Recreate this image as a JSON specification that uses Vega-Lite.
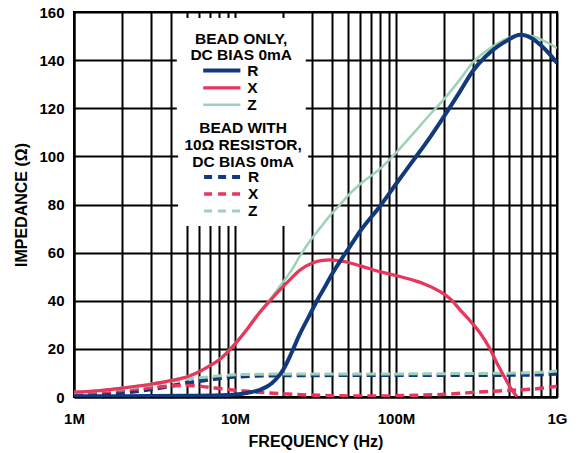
{
  "$schema": "https://vega.github.io/schema/vega-lite/v6.json",
  "width": 483,
  "height": 385,
  "autosize": "none",
  "padding": {"left": 74, "top": 12, "right": 21, "bottom": 56},
  "background": "white",
  "config": {
    "font": "Liberation Sans",
    "view": {"stroke": "black", "strokeWidth": 2},
    "axis": {
      "labelFont": "Liberation Sans", "labelFontWeight": "bold", "labelFontSize": 15, "labelColor": "black",
      "titleFont": "Liberation Sans", "titleFontWeight": "bold", "titleFontSize": 16, "titleColor": "black",
      "gridColor": "black", "gridWidth": 2, "gridOpacity": 1,
      "domainColor": "black", "domainWidth": 2, "ticks": false,
      "labelOverlap": false, "labelFlush": false, "zindex": 0
    },
    "legend": {
      "orient": "none", "direction": "vertical", "fillColor": "white",
      "labelFont": "Liberation Sans", "labelFontWeight": "bold", "labelFontSize": 15.5, "labelColor": "black",
      "titleFont": "Liberation Sans", "titleFontWeight": "bold", "titleFontSize": 15.5, "titleColor": "black",
      "titleLineHeight": 16.8, "titleAnchor": "start", "titleAlign": "center", "titlePadding": -1.2,
      "symbolType": "M-3.1,0H3.1", "symbolSize": 144, "symbolStrokeWidth": 3.5,
      "rowPadding": 0.2, "labelOffset": 17.4
    }
  },
  "data": {
    "values": [
      {"g": "D", "p": "R", "f": 1, "v": 0.5}, {"g": "D", "p": "R", "f": 1.5, "v": 1.0}, {"g": "D", "p": "R", "f": 2, "v": 1.7},
      {"g": "D", "p": "R", "f": 3, "v": 3.2}, {"g": "D", "p": "R", "f": 4, "v": 4.6}, {"g": "D", "p": "R", "f": 5, "v": 5.8},
      {"g": "D", "p": "R", "f": 6, "v": 6.6}, {"g": "D", "p": "R", "f": 7, "v": 7.3}, {"g": "D", "p": "R", "f": 8, "v": 7.8},
      {"g": "D", "p": "R", "f": 10, "v": 8.4}, {"g": "D", "p": "R", "f": 15, "v": 8.9}, {"g": "D", "p": "R", "f": 20, "v": 9.0},
      {"g": "D", "p": "R", "f": 50, "v": 9.1}, {"g": "D", "p": "R", "f": 100, "v": 9.1}, {"g": "D", "p": "R", "f": 200, "v": 9.1},
      {"g": "D", "p": "R", "f": 500, "v": 9.2}, {"g": "D", "p": "R", "f": 800, "v": 9.4}, {"g": "D", "p": "R", "f": 1000, "v": 9.7},

      {"g": "D", "p": "X", "f": 1, "v": 1.5}, {"g": "D", "p": "X", "f": 1.5, "v": 2.2}, {"g": "D", "p": "X", "f": 2, "v": 2.8},
      {"g": "D", "p": "X", "f": 3, "v": 3.9}, {"g": "D", "p": "X", "f": 4, "v": 4.6}, {"g": "D", "p": "X", "f": 5, "v": 4.8},
      {"g": "D", "p": "X", "f": 6, "v": 4.5}, {"g": "D", "p": "X", "f": 7, "v": 4.0}, {"g": "D", "p": "X", "f": 8, "v": 3.5},
      {"g": "D", "p": "X", "f": 10, "v": 2.8}, {"g": "D", "p": "X", "f": 14, "v": 2.0}, {"g": "D", "p": "X", "f": 20, "v": 1.3},
      {"g": "D", "p": "X", "f": 30, "v": 0.8}, {"g": "D", "p": "X", "f": 45, "v": 0.5}, {"g": "D", "p": "X", "f": 70, "v": 0.4},
      {"g": "D", "p": "X", "f": 100, "v": 0.5}, {"g": "D", "p": "X", "f": 130, "v": 0.7}, {"g": "D", "p": "X", "f": 200, "v": 1.1},
      {"g": "D", "p": "X", "f": 350, "v": 2.2}, {"g": "D", "p": "X", "f": 560, "v": 2.9}, {"g": "D", "p": "X", "f": 800, "v": 3.6},
      {"g": "D", "p": "X", "f": 1000, "v": 4.5},

      {"g": "D", "p": "Z", "f": 1, "v": 1.7}, {"g": "D", "p": "Z", "f": 1.5, "v": 2.7}, {"g": "D", "p": "Z", "f": 2, "v": 3.4},
      {"g": "D", "p": "Z", "f": 3, "v": 5.0}, {"g": "D", "p": "Z", "f": 4, "v": 6.3}, {"g": "D", "p": "Z", "f": 5, "v": 7.4},
      {"g": "D", "p": "Z", "f": 6, "v": 8.0}, {"g": "D", "p": "Z", "f": 7, "v": 8.4}, {"g": "D", "p": "Z", "f": 8, "v": 8.8},
      {"g": "D", "p": "Z", "f": 10, "v": 9.2}, {"g": "D", "p": "Z", "f": 15, "v": 9.5}, {"g": "D", "p": "Z", "f": 20, "v": 9.6},
      {"g": "D", "p": "Z", "f": 50, "v": 9.6}, {"g": "D", "p": "Z", "f": 100, "v": 9.6}, {"g": "D", "p": "Z", "f": 200, "v": 9.7},
      {"g": "D", "p": "Z", "f": 500, "v": 9.9}, {"g": "D", "p": "Z", "f": 800, "v": 10.3}, {"g": "D", "p": "Z", "f": 1000, "v": 10.8},

      {"g": "B", "p": "Z", "f": 1, "v": 2.1}, {"g": "B", "p": "Z", "f": 1.5, "v": 2.9}, {"g": "B", "p": "Z", "f": 2, "v": 3.8},
      {"g": "B", "p": "Z", "f": 3, "v": 5.5}, {"g": "B", "p": "Z", "f": 4, "v": 7.0}, {"g": "B", "p": "Z", "f": 5, "v": 8.5},
      {"g": "B", "p": "Z", "f": 6, "v": 10.7}, {"g": "B", "p": "Z", "f": 7, "v": 13.2}, {"g": "B", "p": "Z", "f": 8, "v": 15.8},
      {"g": "B", "p": "Z", "f": 10, "v": 22.3}, {"g": "B", "p": "Z", "f": 12, "v": 28.8}, {"g": "B", "p": "Z", "f": 14, "v": 34.8},
      {"g": "B", "p": "Z", "f": 16.5, "v": 40.5}, {"g": "B", "p": "Z", "f": 19, "v": 46}, {"g": "B", "p": "Z", "f": 22.5, "v": 52.8},
      {"g": "B", "p": "Z", "f": 25, "v": 58}, {"g": "B", "p": "Z", "f": 29, "v": 64.5}, {"g": "B", "p": "Z", "f": 34, "v": 70.5},
      {"g": "B", "p": "Z", "f": 39, "v": 75.5}, {"g": "B", "p": "Z", "f": 45, "v": 80}, {"g": "B", "p": "Z", "f": 50, "v": 83.5},
      {"g": "B", "p": "Z", "f": 60, "v": 88.5}, {"g": "B", "p": "Z", "f": 80, "v": 95}, {"g": "B", "p": "Z", "f": 100, "v": 101.5},
      {"g": "B", "p": "Z", "f": 130, "v": 110}, {"g": "B", "p": "Z", "f": 163, "v": 117.5}, {"g": "B", "p": "Z", "f": 200, "v": 124},
      {"g": "B", "p": "Z", "f": 250, "v": 132}, {"g": "B", "p": "Z", "f": 300, "v": 139}, {"g": "B", "p": "Z", "f": 360, "v": 143.6},
      {"g": "B", "p": "Z", "f": 424, "v": 146.8}, {"g": "B", "p": "Z", "f": 500, "v": 149.2}, {"g": "B", "p": "Z", "f": 590, "v": 150.5},
      {"g": "B", "p": "Z", "f": 700, "v": 150}, {"g": "B", "p": "Z", "f": 800, "v": 148.5}, {"g": "B", "p": "Z", "f": 900, "v": 146.8},
      {"g": "B", "p": "Z", "f": 1000, "v": 145},

      {"g": "B", "p": "X", "f": 1, "v": 2.0}, {"g": "B", "p": "X", "f": 1.5, "v": 2.8}, {"g": "B", "p": "X", "f": 2, "v": 3.7},
      {"g": "B", "p": "X", "f": 3, "v": 5.3}, {"g": "B", "p": "X", "f": 4, "v": 6.8}, {"g": "B", "p": "X", "f": 5, "v": 8.3},
      {"g": "B", "p": "X", "f": 6, "v": 10.5}, {"g": "B", "p": "X", "f": 7, "v": 13}, {"g": "B", "p": "X", "f": 8, "v": 15.5},
      {"g": "B", "p": "X", "f": 10, "v": 22}, {"g": "B", "p": "X", "f": 12, "v": 28.5}, {"g": "B", "p": "X", "f": 14, "v": 34.5},
      {"g": "B", "p": "X", "f": 16.5, "v": 40}, {"g": "B", "p": "X", "f": 19, "v": 44.5}, {"g": "B", "p": "X", "f": 22.5, "v": 49.5},
      {"g": "B", "p": "X", "f": 25, "v": 52.5}, {"g": "B", "p": "X", "f": 30, "v": 55.6}, {"g": "B", "p": "X", "f": 35, "v": 56.8},
      {"g": "B", "p": "X", "f": 39, "v": 57}, {"g": "B", "p": "X", "f": 45, "v": 56.5}, {"g": "B", "p": "X", "f": 50, "v": 56},
      {"g": "B", "p": "X", "f": 60, "v": 54.5}, {"g": "B", "p": "X", "f": 80, "v": 52}, {"g": "B", "p": "X", "f": 100, "v": 50.5},
      {"g": "B", "p": "X", "f": 127, "v": 48.6}, {"g": "B", "p": "X", "f": 150, "v": 47}, {"g": "B", "p": "X", "f": 188, "v": 43.8},
      {"g": "B", "p": "X", "f": 220, "v": 40.5}, {"g": "B", "p": "X", "f": 250, "v": 36.2}, {"g": "B", "p": "X", "f": 290, "v": 31.5},
      {"g": "B", "p": "X", "f": 333, "v": 26.6}, {"g": "B", "p": "X", "f": 380, "v": 20.5}, {"g": "B", "p": "X", "f": 424, "v": 14},
      {"g": "B", "p": "X", "f": 470, "v": 8.5}, {"g": "B", "p": "X", "f": 510, "v": 4.2}, {"g": "B", "p": "X", "f": 565, "v": 0},

      {"g": "B", "p": "R", "f": 1, "v": 0.3}, {"g": "B", "p": "R", "f": 2, "v": 0.35}, {"g": "B", "p": "R", "f": 3, "v": 0.4},
      {"g": "B", "p": "R", "f": 5, "v": 0.5}, {"g": "B", "p": "R", "f": 7, "v": 0.6}, {"g": "B", "p": "R", "f": 9, "v": 0.8},
      {"g": "B", "p": "R", "f": 10, "v": 1.0}, {"g": "B", "p": "R", "f": 12, "v": 1.8}, {"g": "B", "p": "R", "f": 14.3, "v": 3},
      {"g": "B", "p": "R", "f": 17, "v": 5.8}, {"g": "B", "p": "R", "f": 19, "v": 9.3}, {"g": "B", "p": "R", "f": 20, "v": 11.5},
      {"g": "B", "p": "R", "f": 22.5, "v": 18.5}, {"g": "B", "p": "R", "f": 25, "v": 25.5}, {"g": "B", "p": "R", "f": 28.8, "v": 33.5},
      {"g": "B", "p": "R", "f": 32, "v": 39.5}, {"g": "B", "p": "R", "f": 36, "v": 45.5}, {"g": "B", "p": "R", "f": 40, "v": 51},
      {"g": "B", "p": "R", "f": 45, "v": 56.5}, {"g": "B", "p": "R", "f": 50, "v": 61}, {"g": "B", "p": "R", "f": 60, "v": 69},
      {"g": "B", "p": "R", "f": 80, "v": 79.5}, {"g": "B", "p": "R", "f": 100, "v": 88.5}, {"g": "B", "p": "R", "f": 127, "v": 98},
      {"g": "B", "p": "R", "f": 163, "v": 108}, {"g": "B", "p": "R", "f": 196, "v": 116}, {"g": "B", "p": "R", "f": 250, "v": 127},
      {"g": "B", "p": "R", "f": 300, "v": 135.5}, {"g": "B", "p": "R", "f": 360, "v": 141.5}, {"g": "B", "p": "R", "f": 424, "v": 145.5},
      {"g": "B", "p": "R", "f": 500, "v": 148.5}, {"g": "B", "p": "R", "f": 590, "v": 150.5}, {"g": "B", "p": "R", "f": 700, "v": 149},
      {"g": "B", "p": "R", "f": 800, "v": 146}, {"g": "B", "p": "R", "f": 900, "v": 142.5}, {"g": "B", "p": "R", "f": 1000, "v": 138.8}
    ]
  },
  "encoding": {
    "x": {
      "field": "f", "type": "quantitative",
      "scale": {"type": "log", "domain": [1, 1000], "nice": false},
      "axis": {
        "title": "FREQUENCY (Hz)",
        "values": [1, 2, 3, 4, 5, 6, 7, 8, 9, 10, 20, 30, 40, 50, 60, 70, 80, 90, 100, 200, 300, 400, 500, 600, 700, 800, 900, 1000],
        "labelExpr": "datum.value == 1 ? '1M' : datum.value == 10 ? '10M' : datum.value == 100 ? '100M' : datum.value == 1000 ? '1G' : ''",
        "labelPadding": 14.5, "titlePadding": 7
      }
    },
    "y": {
      "field": "v", "type": "quantitative",
      "scale": {"domain": [0, 160], "nice": false},
      "axis": {
        "title": "IMPEDANCE (Ω)",
        "values": [0, 20, 40, 60, 80, 100, 120, 140, 160],
        "labelPadding": 10, "titlePadding": 9
      }
    }
  },
  "layer": [
    {
      "transform": [{"filter": "datum.g == 'D'"}],
      "mark": {"type": "line", "interpolate": "monotone", "strokeDash": [9, 5], "clip": true},
      "encoding": {
        "color": {
          "field": "p", "type": "nominal",
          "scale": {"domain": ["R", "X", "Z"], "range": ["#12397c", "#e8365d", "#9ed2b6"]},
          "legend": {
            "title": ["BEAD WITH", "10Ω RESISTOR,", "DC BIAS 0mA"],
            "padding": 6, "legendX": 104.1, "legendY": 103, "zindex": 2,
            "symbolDash": [8, 6], "symbolOffset": -28.4
          }
        },
        "strokeWidth": {
          "field": "p", "type": "nominal",
          "scale": {"domain": ["R", "X", "Z"], "range": [4, 3, 2.5]},
          "legend": null
        }
      }
    },
    {
      "transform": [{"filter": "datum.g == 'B'"}],
      "mark": {"type": "line", "interpolate": "monotone", "clip": true},
      "encoding": {
        "color": {
          "field": "p", "type": "nominal",
          "scale": {"domain": ["R", "X", "Z"], "range": ["#12397c", "#e8365d", "#9ed2b6"]},
          "legend": {
            "title": ["BEAD ONLY,", "DC BIAS 0mA"],
            "padding": 13.4, "legendX": 102.8, "legendY": 6.1, "zindex": 1,
            "symbolOffset": -27.4
          }
        },
        "strokeWidth": {
          "field": "p", "type": "nominal",
          "scale": {"domain": ["R", "X", "Z"], "range": [4, 2.5, 2]},
          "legend": null
        }
      }
    }
  ],
  "resolve": {"scale": {"color": "independent", "strokeWidth": "independent"}, "legend": {"color": "independent"}}
}
